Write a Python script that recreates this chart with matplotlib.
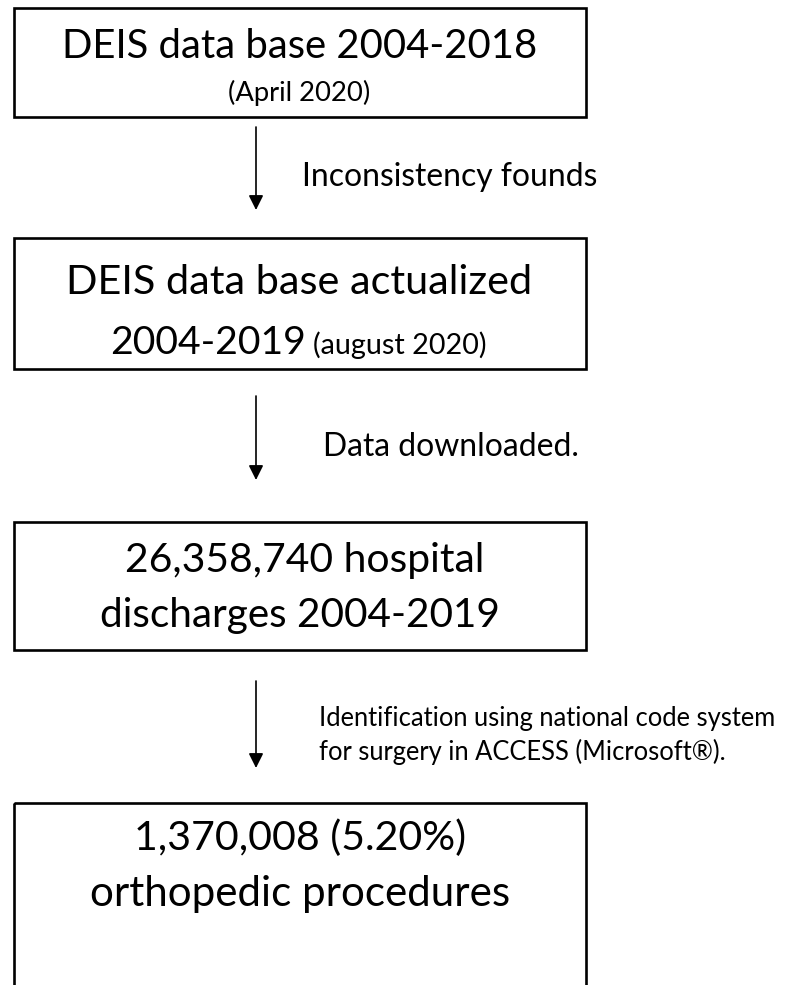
import matplotlib
matplotlib.use("Agg")
import matplotlib.pyplot as plt
from matplotlib.patches import Rectangle

FONT = ["Lato", "DejaVu Sans"]

# ---- content ----
box1_lines = ["DEIS data base 2004-2018", "(April 2020)"]
box2_lines = ["DEIS data base actualized", "2004-2019", "(august 2020)"]
box3_lines = ["26,358,740 hospital", "discharges 2004-2019"]
box4_lines = ["1,370,008 (5.20%)", "orthopedic procedures"]
step_labels = [
    ["Inconsistency founds"],
    ["Data downloaded."],
    ["Identification using national code system",
     "for surgery in ACCESS (Microsoft\u00ae)."],
]

# ---- layout (pixel coordinates, y downward) ----
W, H = 787, 985
fig = plt.figure(figsize=(W / 100, H / 100), dpi=100)
ax = fig.add_axes([0, 0, 1, 1])
ax.set_xlim(0, W)
ax.set_ylim(H, 0)
ax.axis("off")
renderer = fig.canvas.get_renderer()


def fit_text(s, x, y, width, ha="center"):
    t = ax.text(x, y, s, fontsize=20, ha=ha, va="baseline", family=FONT,
                color="black")
    w = t.get_window_extent(renderer).width
    t.set_fontsize(20 * width / w)
    return t


def put(s, x, y, fs, ha="center"):
    return ax.text(x, y, s, fontsize=fs, ha=ha, va="baseline", family=FONT,
                   color="black")


boxes = [(14, 8, 572, 109), (14, 238, 572, 131), (14, 522, 572, 128),
         (14, 803, 572, 260)]
for (x, y, w, h) in boxes:
    ax.add_patch(Rectangle((x, y), w, h, fill=False, lw=1.9,
                           edgecolor="black", clip_on=True))

# box texts
fit_text(box1_lines[0], 300, 58, 475)
fit_text(box1_lines[1], 299, 101, 142)

fit_text(box2_lines[0], 299, 294, 466)
fit_text(box2_lines[1], 306, 354, 196, ha="right")
fit_text(box2_lines[2], 313, 354, 173, ha="left")
fit_text(box3_lines[0], 305, 572, 360)
fit_text(box3_lines[1], 300, 627, 400)
fit_text(box4_lines[0], 300, 850, 332)
fit_text(box4_lines[1], 300, 906, 422)

# arrows
arrows = [(127, 210), (396, 480), (681, 768)]
for (y0, y1) in arrows:
    ax.annotate("", xy=(256, y1), xytext=(256, y0),
                arrowprops=dict(arrowstyle="-|>", color="black", lw=1.2,
                                mutation_scale=22, shrinkA=0, shrinkB=0))

# step labels
t = fit_text(step_labels[0][0], 302, 186, 296, ha="left")
fs_label = t.get_fontsize()
put(step_labels[1][0], 323, 456, fs_label, ha="left")
t = fit_text(step_labels[2][0], 319, 726, 458, ha="left")
put(step_labels[2][1], 319, 760, t.get_fontsize(), ha="left")

fig.savefig("out.png", dpi=100, facecolor="white")
